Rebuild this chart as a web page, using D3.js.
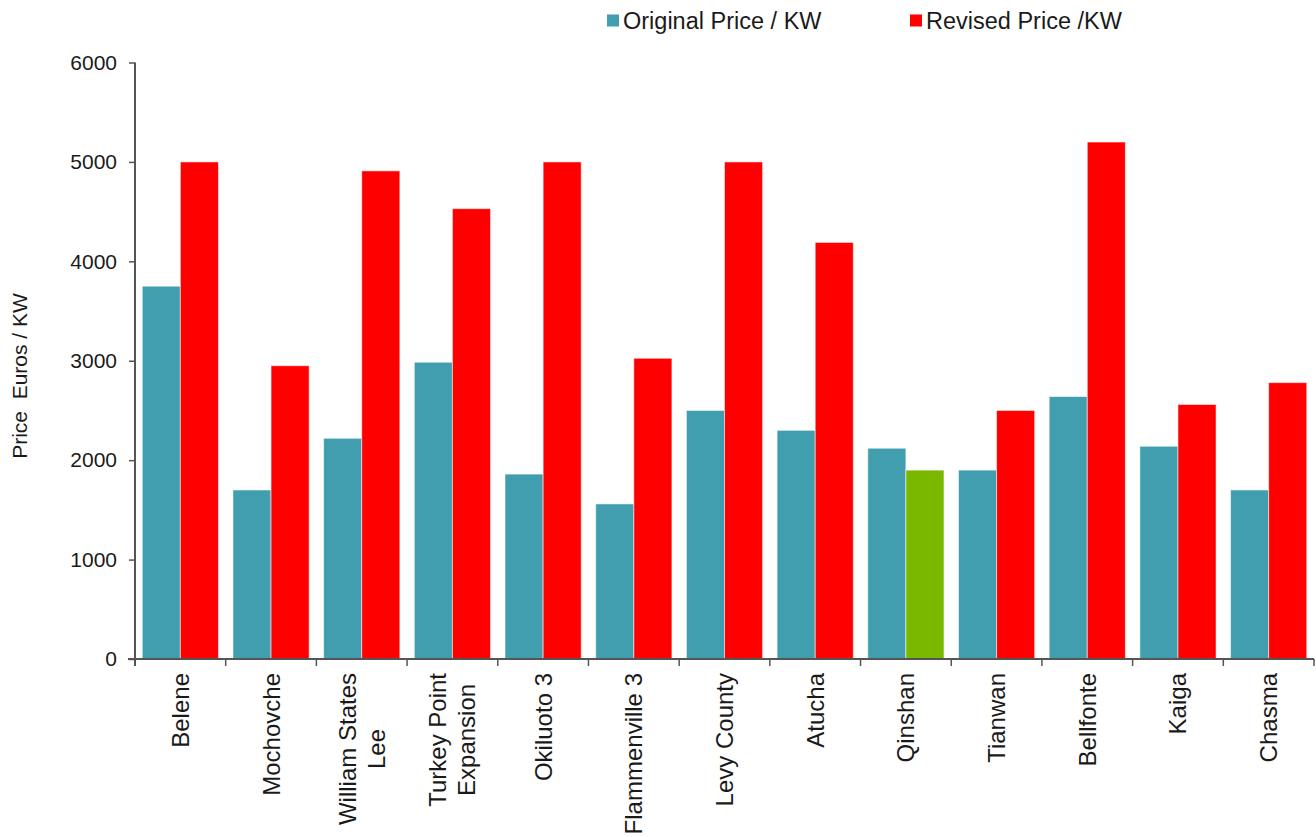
<!DOCTYPE html>
<html>
<head>
<meta charset="utf-8">
<script src="https://cdn.jsdelivr.net/npm/d3@7"></script>
<style>
  html, body { margin: 0; padding: 0; background: #ffffff; }
  svg { display: block; font-family: "Liberation Sans", Arial, sans-serif; }
</style>
</head>
<body>
<svg id="chart" width="1316" height="837"></svg>
<script>
// Plant names (a "\n" splits a label over two lines)
const plants = [
  "Belene", "Mochovche", "William States\nLee", "Turkey Point\nExpansion",
  "Okiluoto 3", "Flammenville 3", "Levy County", "Atucha", "Qinshan",
  "Tianwan", "Bellfonte", "Kaiga", "Chasma"
];
// Euros per kW
const originalPrice = [3750, 1700, 2220, 2985, 1860, 1560, 2500, 2300, 2120, 1900, 2640, 2140, 1700];
const revisedPrice  = [5000, 2950, 4910, 4530, 5000, 3025, 5000, 4190, 1900, 2500, 5200, 2560, 2780];
const seriesNames = ["Original Price / KW", "Revised Price /KW"];
const seriesColors = ["#419EAF", "#FF0000"];
// the one revised price that went down is shown in green
const loweredColor = "#7AB800";
const yTicks = [0, 1000, 2000, 3000, 4000, 5000, 6000];
const yTitle = "Price\u00A0 Euros / KW";

const svg = d3.select("#chart");
const plot = { left: 135, right: 1314, top: 62.5, bottom: 659 };

const x0 = d3.scaleBand().domain(plants).range([plot.left, plot.right]).padding(0);
const x1 = d3.scaleBand().domain([0, 1]).range([0, x0.bandwidth()])
  .paddingInner(0).paddingOuter(0.19);
const y = d3.scaleLinear().domain([0, 6000]).range([plot.bottom, plot.top]);

const rows = plants.map((p, i) => ({ plant: p, values: [originalPrice[i], revisedPrice[i]] }));

// bars
const groups = svg.append("g").selectAll("g").data(rows).join("g")
  .attr("transform", d => `translate(${x0(d.plant)},0)`);
groups.selectAll("rect")
  .data(d => d.values.map((v, s) => ({ v, s, plant: d.plant })))
  .join("rect")
  .attr("x", d => x1(d.s))
  .attr("width", x1.bandwidth())
  .attr("y", d => y(d.v))
  .attr("height", d => y(0) - y(d.v))
  .attr("fill", d => (d.s === 1 && d.v < originalPrice[plants.indexOf(d.plant)]) ? loweredColor : seriesColors[d.s])
  .attr("stroke", "#ffffff")
  .attr("stroke-opacity", 0.55)
  .attr("stroke-width", 1);

// y axis
const yAxis = svg.append("g")
  .attr("transform", `translate(${plot.left},0)`)
  .call(d3.axisLeft(y).tickValues(yTicks).tickSize(6).tickPadding(12).tickFormat(d3.format("d")));
yAxis.select(".domain").attr("d", `M0,${plot.top}V${plot.bottom + 7}`)
  .attr("stroke", "#555").attr("stroke-width", 2);
yAxis.selectAll(".tick line").attr("stroke", "#555").attr("stroke-width", 1.5);
yAxis.selectAll(".tick text").attr("font-size", 21).attr("fill", "#1a1a1a")
  .attr("font-family", "Liberation Sans, Arial, sans-serif");

// x axis: ticks on the category boundaries
const boundaries = plants.map(p => x0(p)).concat([plot.right]);
const xAxis = svg.append("g");
xAxis.append("line")
  .attr("x1", plot.left - 7).attr("x2", plot.right)
  .attr("y1", plot.bottom).attr("y2", plot.bottom)
  .attr("stroke", "#555").attr("stroke-width", 2);
xAxis.selectAll("line.tick").data(boundaries).join("line")
  .attr("class", "tick")
  .attr("x1", d => d).attr("x2", d => d)
  .attr("y1", plot.bottom).attr("y2", plot.bottom + 7)
  .attr("stroke", "#555").attr("stroke-width", 1.5);

// category labels, rotated, top-aligned, lines centred on each other
const labelTop = 673, labelSize = 24, lineH = 29;
plants.forEach(p => {
  const lines = p.split("\n");
  const g = svg.append("g")
    .attr("transform", `translate(${x0(p) + x0.bandwidth() / 2},${labelTop}) rotate(-90)`);
  const texts = lines.map((ln, i) => g.append("text")
    .attr("font-size", labelSize).attr("fill", "#1a1a1a")
    .attr("dominant-baseline", "central")
    .attr("y", (i - (lines.length - 1) / 2) * lineH)
    .text(ln));
  const maxW = d3.max(texts, t => t.node().getComputedTextLength());
  texts.forEach(t => t.attr("text-anchor", "middle").attr("x", -maxW / 2));
});

// y title
svg.append("text")
  .attr("transform", `translate(19,${(292 + 460) / 2}) rotate(-90)`)
  .attr("text-anchor", "middle").attr("dominant-baseline", "central")
  .attr("font-size", 21).attr("fill", "#1a1a1a")
  .text(yTitle);

// legend
const legendX = [607, 910];
const legend = svg.append("g").selectAll("g").data(seriesNames).join("g")
  .attr("transform", (d, i) => `translate(${legendX[i]},21)`);
legend.append("rect")
  .attr("x", 0).attr("y", -6.5).attr("width", 12).attr("height", 12)
  .attr("fill", (d, i) => seriesColors[i]);
legend.append("text")
  .attr("x", 16).attr("dominant-baseline", "central")
  .attr("font-size", 23.5).attr("fill", "#1a1a1a")
  .text(d => d);
</script>
</body>
</html>
